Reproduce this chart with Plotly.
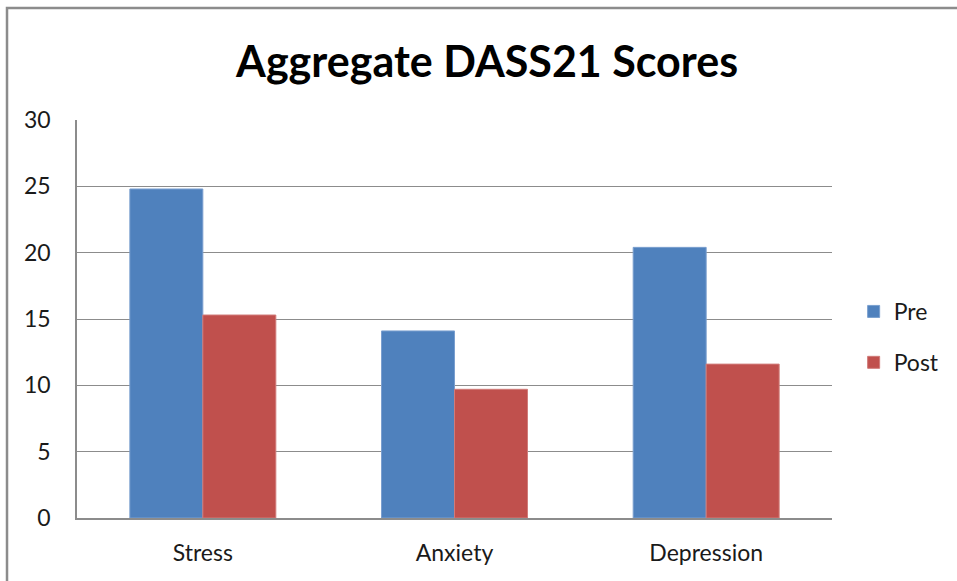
import plotly.graph_objects as go

categories = ["Stress", "Anxiety", "Depression"]
pre_scores = [24.8, 14.1, 20.4]
post_scores = [15.3, 9.7, 11.6]
y_ticks = [0, 5, 10, 15, 20, 25, 30]

FONT = "Lato"

fig = go.Figure()
fig.add_trace(go.Bar(
    name="Pre", x=categories, y=pre_scores, legendgroup="pre",
    marker=dict(color="#4F81BD", line=dict(color="#7A9FCF", width=1)),
))
fig.add_trace(go.Bar(
    name="Post", x=categories, y=post_scores, legendgroup="post",
    marker=dict(color="#C0504D", line=dict(color="#D07B79", width=1)),
))

fig.update_layout(
    width=957, height=581,
    margin=dict(l=77, r=125, t=120, b=63),
    paper_bgcolor="white", plot_bgcolor="white",
    barmode="group", bargap=0.42, bargroupgap=0,
    title=dict(text="<b>Aggregate DASS21 Scores</b>", x=0.509, xanchor="center",
               y=0.893, yanchor="middle",
               font=dict(family=FONT, size=43, color="#000000")),
    font=dict(family=FONT, color="#1a1a1a"),
    showlegend=True,
    legend=dict(xref="container", yref="container",
                x=0.892, y=0.42, xanchor="left", yanchor="middle",
                traceorder="grouped", tracegroupgap=18,
                font=dict(family=FONT, size=23, color="#1a1a1a"),
                bgcolor="rgba(0,0,0,0)"),
    xaxis=dict(showline=True, linecolor="#8C8C8C", linewidth=1.5,
               showgrid=False, ticks="", ticklabelstandoff=14,
               tickfont=dict(family=FONT, size=23, color="#1a1a1a")),
    yaxis=dict(range=[0, 30], tickvals=y_ticks, showline=True,
               linecolor="#8C8C8C", linewidth=1.5,
               showgrid=True, gridcolor="#8C8C8C", gridwidth=1,
               zeroline=False, ticks="", ticklabelstandoff=20,
               tickfont=dict(family=FONT, size=23, color="#1a1a1a")),
    shapes=[dict(type="rect", xref="paper", yref="paper",
                 x0=-0.0927, x1=1.2, y0=-0.2, y1=1.2814,
                 line=dict(color="#8C8C8C", width=2.5),
                 fillcolor="rgba(0,0,0,0)", layer="above")],
)

fig.write_html("out.html")
